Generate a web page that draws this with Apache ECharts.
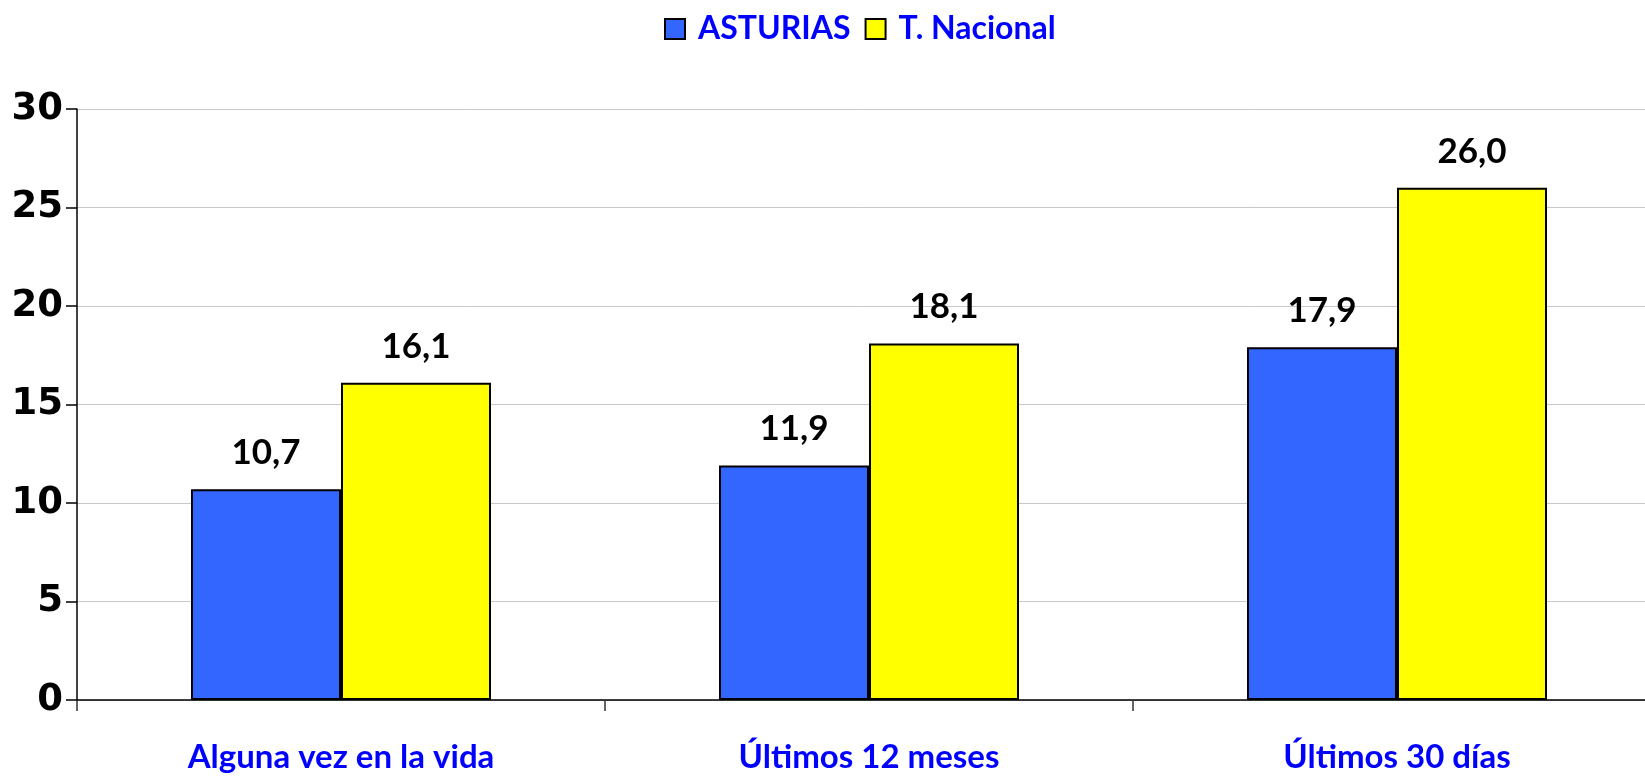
<!DOCTYPE html>
<html>
<head>
<meta charset="utf-8">
<script src="https://cdn.jsdelivr.net/npm/echarts@6/dist/echarts.min.js"></script>
<style>html,body{margin:0;padding:0;background:#fff;overflow:hidden;}#c{width:1645px;height:776px;}</style>
</head>
<body>
<div id="c"></div>
<script>
const categories = ['Alguna vez en la vida', 'Últimos 12 meses', 'Últimos 30 días'];
const seriesNames = ['ASTURIAS', 'T. Nacional'];
const asturias = [10.7, 11.9, 17.9];
const nacional = [16.1, 18.1, 26.0];
const yTicks = [0, 5, 10, 15, 20, 25, 30];

const chart = echarts.init(document.getElementById('c'));
const labelFmt = p => p.value.toFixed(1).replace('.', ',');
const barLabel = {
  show: true, position: 'top', distance: 19, formatter: labelFmt,
  fontFamily: 'Lato', fontWeight: 'bold', fontSize: 35, color: '#000'
};
chart.setOption({
  animation: false,
  legend: {
    left: 659, top: 8, icon: 'rect',
    itemWidth: 20, itemHeight: 20, itemGap: 14,
    textStyle: { fontFamily: 'Lato', fontWeight: 'bold', fontSize: 32, color: '#0000FF', padding: [0, 0, 0, 8] },
    data: seriesNames
  },
  grid: { left: 77, width: 1584, top: 109, bottom: 76, containLabel: false, outerBoundsMode: 'none' },
  xAxis: {
    type: 'category', data: categories,
    axisLine: { lineStyle: { color: '#000', width: 1.5 } },
    axisTick: { show: true, length: 11, lineStyle: { color: '#333', width: 1.5 } },
    axisLabel: { margin: 41, fontFamily: 'Lato', fontWeight: 'bold', fontSize: 33, color: '#0000FF' }
  },
  yAxis: {
    type: 'value', min: 0, max: 30, interval: 5,
    axisLine: { show: true, lineStyle: { color: '#000', width: 1.5 } },
    axisTick: { show: true, length: 11, lineStyle: { color: '#000', width: 1.5 } },
    axisLabel: { margin: 14, fontFamily: 'DejaVu Sans', fontWeight: 'bold', fontSize: 37, color: '#000',
      formatter: v => yTicks.includes(v) ? String(v) : '' },
    splitLine: { lineStyle: { color: '#c8c8c8', width: 1 } }
  },
  series: [
    { name: seriesNames[0], type: 'bar', data: asturias, barWidth: 150, barGap: '0%',
      itemStyle: { color: '#3366FF', borderColor: '#000', borderWidth: 2 }, label: barLabel },
    { name: seriesNames[1], type: 'bar', data: nacional, barWidth: 150, barGap: '0%',
      itemStyle: { color: '#FFFF00', borderColor: '#000', borderWidth: 2 }, label: barLabel }
  ]
});
</script>
</body>
</html>
